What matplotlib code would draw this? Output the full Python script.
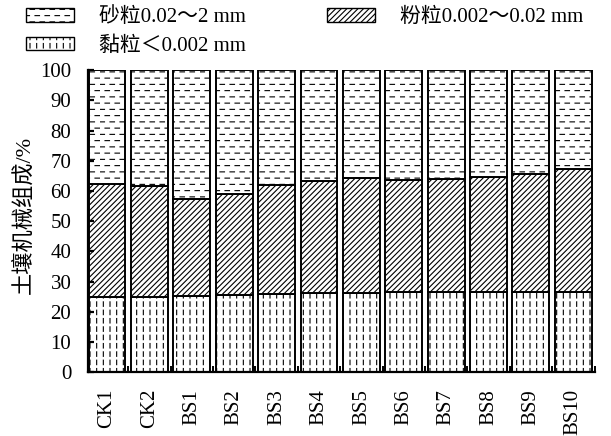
"""
Soil mechanical composition (sand / silt / clay) stacked bars.
"""

import warnings
import numpy as np
import matplotlib
matplotlib.use('Agg')
import matplotlib.pyplot as plt
from matplotlib import hatch as mhatch
from matplotlib.path import Path
from matplotlib.patches import Patch
from matplotlib.ticker import FixedLocator, MultipleLocator

warnings.filterwarnings('ignore')

CATEGORIES = ['CK1', 'CK2', 'BS1', 'BS2', 'BS3', 'BS4',
              'BS5', 'BS6', 'BS7', 'BS8', 'BS9', 'BS10']
CLAY = [25.0, 25.0, 25.2, 25.5, 25.8, 26.2, 26.4, 26.6, 26.7, 26.7, 26.6, 26.5]
SILT = [37.3, 36.7, 32.1, 33.4, 36.2, 37.1, 37.8, 36.9, 37.3, 37.8, 38.9, 40.7]
SAND = [37.7, 38.3, 42.7, 41.1, 38.0, 36.7, 35.8, 36.5, 36.0, 35.5, 34.5, 32.8]

LABEL_SAND = '砂粒0.02～2 mm'
LABEL_SILT = '粉粒0.002～0.02 mm'
LABEL_CLAY = '黏粒＜0.002 mm'
Y_LABEL = '土壤机械组成/%'

FONT = ['Liberation Serif', 'Noto Sans CJK SC']
FS = 15


class DashRowHatch(mhatch.HatchPatternBase):
    """'h' -> staggered rows of short horizontal dashes."""

    def __init__(self, hatch, density):
        self.rows = 16 * hatch.count('h')
        self.cols = 10
        self.num_vertices = self.rows * self.cols * 2

    def set_vertices_and_codes(self, vertices, codes):
        i = 0
        for r in range(self.rows):
            y = (r + 0.5) / self.rows
            shift = 0.05 if r % 2 else 0.0
            for c in range(self.cols):
                x0 = c / self.cols + shift
                vertices[i] = (x0, y)
                vertices[i + 1] = (x0 + 0.045, y)
                i += 2
        codes[0::2] = Path.MOVETO
        codes[1::2] = Path.LINETO


class DashColHatch(mhatch.HatchPatternBase):
    """'v' -> grid of short vertical dashes."""

    def __init__(self, hatch, density):
        self.rows = 12 * hatch.count('v')
        self.cols = 15
        self.num_vertices = self.rows * self.cols * 2

    def set_vertices_and_codes(self, vertices, codes):
        i = 0
        for r in range(self.rows):
            y0 = r / self.rows + 0.02
            for c in range(self.cols):
                x = (c + 0.5) / self.cols
                vertices[i] = (x, y0)
                vertices[i + 1] = (x, y0 + 0.045)
                i += 2
        codes[0::2] = Path.MOVETO
        codes[1::2] = Path.LINETO


mhatch._hatch_types.extend([DashRowHatch, DashColHatch])

plt.rcParams['font.family'] = FONT
plt.rcParams['hatch.linewidth'] = 0.8
plt.rcParams['hatch.color'] = 'black'

HATCH_SAND = 'h'
HATCH_SILT = '//////'
HATCH_CLAY = 'v'


def main():
    fig = plt.figure(figsize=(6.11, 4.36), dpi=100)
    ax = fig.add_axes([0.144, 0.146, 0.829, 0.693])

    x = np.arange(len(CATEGORIES))
    clay = np.array(CLAY)
    silt = np.array(SILT)
    sand = np.array(SAND)
    width = 0.87
    style = dict(width=width, color='white', edgecolor='black', linewidth=1.4)

    ax.bar(x, clay, hatch=HATCH_CLAY, **style)
    ax.bar(x, silt, bottom=clay, hatch=HATCH_SILT, **style)
    ax.bar(x, sand, bottom=clay + silt, hatch=HATCH_SAND, **style)

    ax.set_xlim(-0.45, 11.5)
    ax.set_ylim(0, 100)
    ax.yaxis.set_major_locator(MultipleLocator(10))

    ax.set_xticks(x)
    ax.set_xticklabels(CATEGORIES, rotation=90, fontsize=FS)
    ax.xaxis.set_minor_locator(FixedLocator(np.arange(0.5, len(CATEGORIES), 1.0)))
    ax.tick_params(axis='x', which='major', length=0, pad=12)
    ax.tick_params(axis='x', which='minor', direction='in', length=4, width=1.4)
    ax.tick_params(axis='y', direction='in', length=4, width=1.6,
                   labelsize=FS, pad=12)

    for side in ['top', 'right']:
        ax.spines[side].set_visible(False)
    for side in ['left', 'bottom']:
        ax.spines[side].set_linewidth(1.6)

    ax.set_ylabel(Y_LABEL, fontsize=16)
    ax.yaxis.set_label_coords(-0.105, 0.52)

    handles = [
        Patch(facecolor='white', edgecolor='black', hatch=HATCH_SAND, label=LABEL_SAND),
        Patch(facecolor='white', edgecolor='black', hatch=HATCH_CLAY, label=LABEL_CLAY),
        Patch(facecolor='white', edgecolor='black', hatch=HATCH_SILT, label=LABEL_SILT),
    ]
    fig.legend(
        handles=handles,
        ncol=2,
        loc='upper left',
        bbox_to_anchor=(0.034, 0.995),
        frameon=False,
        fontsize=FS,
        handlelength=2.3,
        handleheight=0.6,
        handletextpad=1.2,
        columnspacing=3.9,
        labelspacing=0.45,
        borderpad=0.25,
        borderaxespad=0.0,
    )

    fig.savefig('out.png', dpi=100)
    plt.close(fig)


if __name__ == '__main__':
    main()
